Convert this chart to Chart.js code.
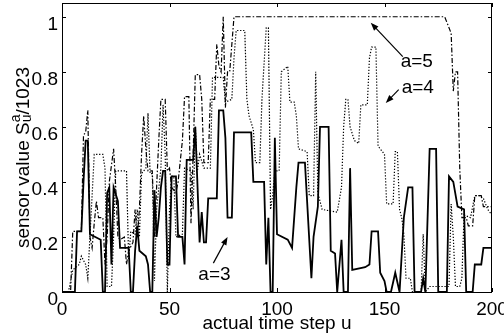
<!DOCTYPE html>
<html>
<head>
<meta charset="utf-8">
<script src="https://cdn.jsdelivr.net/npm/chart.js@4"></script>
<style>
  html, body { margin: 0; padding: 0; background: #fff; }
</style>
</head>
<body>
<canvas id="chart" width="504" height="335"></canvas>
<script>
// sensor value S_u^a / 1023 over time step u, one series per a
const xTicks = [0, 50, 100, 150, 200];
const yTicks = [0, 0.2, 0.4, 0.6, 0.8, 1];

// [u, value] breakpoints
const a3 = [[0,0],[6,0],[7,0.22],[9,0.22],[10,0.4],[11,0.55],[12,0.55],[13,0.21],[18,0.19],[19,0],[20,0],[21,0.36],[22,0.38],[23,0.1],[24,0.38],[26,0.33],[27,0.16],[31,0.16],[32,0],[33,0],[34,0.15],[35,0.24],[36,0.15],[39,0.13],[40,0.1],[41,0],[42,0],[43,0.37],[44,0.2],[45,0.27],[46,0.38],[47,0.44],[48,0.44],[49,0.1],[50,0.1],[51,0.42],[53,0.42],[54,0.2],[56,0.2],[57,0.1],[58,0.48],[61,0.48],[62,0.6],[64,0.18],[65,0.29],[66,0.18],[67,0.18],[68,0.34],[72,0.34],[73,0.66],[75,0.66],[76,0.56],[77,0.27],[79,0.27],[80,0.58],[88,0.58],[89,0.4],[94,0.4],[95,0.1],[96,0.27],[97,0],[98,0],[99,0.56],[100,0.21],[105,0.19],[107,0.16],[109,0.38],[110,0.47],[113,0.47],[114,0.33],[116,0.05],[117,0.2],[119,0.31],[120,0.6],[124,0.6],[125,0.15],[127,0.14],[128,0],[130,0.19],[131,0],[133,0],[134,0.45],[135,0.08],[141,0.09],[143,0.1],[144,0.22],[147,0.22],[148,0.07],[150,0.04],[151,0],[153,0],[155,0.07],[157,0],[159,0.27],[161,0.38],[163,0.38],[164,0],[167,0],[168,0.05],[169,0],[171,0.52],[174,0.52],[175,0],[179,0],[180,0.42],[182,0.4],[184,0.31],[187,0.3],[188,0],[191,0],[192,0.1],[195,0.1],[196,0.16],[200,0.16]];
const a4 = [[0,0],[3,0],[5,0.08],[8,0.1],[9,0.13],[11,0.1],[12,0.05],[13,0.2],[14,0.35],[15,0.5],[19,0.5],[20,0.45],[21,0.02],[23,0.02],[24,0.2],[25,0.44],[30,0.44],[31,0.12],[32,0.22],[34,0.21],[35,0.3],[36,0.2],[37,0.43],[39,0.45],[40,0.65],[41,0.43],[42,0.43],[43,0.04],[44,0.3],[46,0.45],[47,0.68],[48,0.5],[49,0],[50,0.3],[51,0.42],[52,0.42],[53,0.2],[56,0.21],[57,0.45],[60,0.44],[61,0.3],[62,0.6],[63,0.44],[64,0.5],[66,0.45],[69,0.45],[70,0.78],[75,0.78],[76,0.69],[79,0.7],[80,0.85],[81,0.95],[85,0.95],[86,0.7],[87,0.64],[89,0.59],[90,0.47],[92,0.47],[93,0.7],[95,0.96],[96,0.96],[97,0.3],[98,0.35],[99,0.44],[101,0.44],[102,0.8],[105,0.82],[106,0.69],[108,0.69],[109,0.64],[110,0.52],[114,0.51],[115,0.35],[117,0.35],[118,0.8],[119,0.36],[121,0.3],[128,0.29],[130,0.38],[131,0.6],[132,0.7],[133,0.7],[134,0.6],[136,0.55],[138,0.54],[139,0.68],[142,0.68],[143,0.85],[144,0.89],[146,0.89],[147,0.53],[150,0.5],[151,0.32],[154,0.32],[155,0.51],[156,0.51],[157,0.3],[158,0.27],[159,0.21],[160,0.05],[162,0.05],[163,0],[167,0],[168,0.21],[169,0],[171,0.02],[180,0.02],[181,0.32],[182,0.2],[183,0.02],[185,0.02],[186,0.05],[187,0.28],[190,0.27],[192,0.35],[194,0.35],[196,0.34],[198,0.3],[200,0.28]];
const a5 = [[0,0],[4,0],[5,0.22],[9,0.22],[10,0.57],[11,0.58],[12,0.66],[13,0.2],[14,0.16],[15,0.25],[16,0.33],[17,0.27],[19,0.27],[20,0.1],[21,0.2],[22,0.4],[24,0.52],[25,0.38],[26,0.2],[27,0.19],[29,0.2],[30,0.1],[31,0.15],[33,0.18],[34,0.3],[35,0.2],[36,0.3],[37,0.5],[38,0.64],[39,0.52],[40,0.44],[42,0.44],[43,0.2],[44,0.38],[45,0.55],[46,0.7],[48,0.7],[49,0.44],[50,0.45],[51,0.38],[53,0.36],[54,0.4],[56,0.55],[57,0.71],[59,0.71],[60,0.25],[61,0.5],[62,0.79],[64,0.79],[65,0.7],[66,0.47],[68,0.47],[69,0.7],[71,0.7],[72,0.9],[73,0.82],[74,0.8],[75,1],[76,0.67],[77,0.8],[78,0.8],[79,0.9],[80,1],[178,1],[181,0.94],[182,0.73],[183,0.8],[184,0.8],[185,0.45],[186,0.27],[188,0.27],[189,0.24],[191,0.24],[192,0.35],[195,0.35],[196,0.31],[200,0.31]];

// labels with arrows: text anchor, arrow tail, arrow head (data coords)
const notes = [
  { text: 'a=3', at: [70.9, 0.062], from: [70.4, 0.105], to: [77, 0.2] },
  { text: 'a=5', at: [165, 0.836], from: [158.5, 0.855], to: [143.6, 0.978] },
  { text: 'a=4', at: [165.5, 0.742], from: [156.6, 0.735], to: [150.6, 0.687] }
];

const FONT = '"Liberation Sans", Arial, sans-serif';

const series = (pts, dash, w) => ({
  data: pts.map(([x, y]) => ({ x, y })),
  borderColor: '#000',
  borderWidth: w,
  borderDash: dash,
  pointRadius: 0,
  tension: 0,
  fill: false
});

// box round the plot with inward ticks (matlab style)
const frame = {
  id: 'frame',
  afterDatasetsDraw(chart) {
    const { ctx, chartArea: a, scales: { x, y } } = chart;
    ctx.save();
    ctx.strokeStyle = '#000';
    ctx.lineWidth = 1;
    ctx.strokeRect(a.left + 0.5, a.top + 0.5, a.right - a.left - 1, a.bottom - a.top);
    ctx.beginPath();
    xTicks.forEach(v => {
      const px = Math.round(x.getPixelForValue(v)) + 0.5;
      ctx.moveTo(px, a.bottom); ctx.lineTo(px, a.bottom - 4);
      ctx.moveTo(px, a.top); ctx.lineTo(px, a.top + 4);
    });
    yTicks.forEach(v => {
      const py = Math.round(y.getPixelForValue(v)) + 0.5;
      ctx.moveTo(a.left, py); ctx.lineTo(a.left + 4, py);
      ctx.moveTo(a.right, py); ctx.lineTo(a.right - 4, py);
    });
    ctx.stroke();
    ctx.restore();
  }
};

const yTitle = {
  id: 'yTitle',
  afterDraw(chart) {
    const { ctx, chartArea: a } = chart;
    const big = '19px ' + FONT, small = '14px ' + FONT;
    ctx.save();
    ctx.translate(29, (a.top + a.bottom) / 2 + 10);
    ctx.rotate(-Math.PI / 2);
    ctx.fillStyle = '#000';
    ctx.textBaseline = 'alphabetic';
    ctx.font = big;
    const w1 = ctx.measureText('sensor value S').width;
    const w3 = ctx.measureText('/1023').width;
    ctx.font = small;
    const w2 = Math.max(ctx.measureText('a').width, ctx.measureText('u').width);
    const x0 = -(w1 + w2 + w3) / 2;
    ctx.font = big;
    ctx.fillText('sensor value S', x0, 0);
    ctx.font = small;
    ctx.fillText('a', x0 + w1, -9);
    ctx.fillText('u', x0 + w1, 2);
    ctx.font = big;
    ctx.fillText('/1023', x0 + w1 + w2, 0);
    ctx.restore();
  }
};

const arrows = {
  id: 'arrows',
  afterDraw(chart) {
    const { ctx, scales: { x, y } } = chart;
    ctx.save();
    ctx.fillStyle = '#000';
    ctx.strokeStyle = '#000';
    ctx.lineWidth = 1.2;
    ctx.font = '19px ' + FONT;
    ctx.textAlign = 'center';
    ctx.textBaseline = 'middle';
    notes.forEach(n => {
      ctx.fillText(n.text, x.getPixelForValue(n.at[0]), y.getPixelForValue(n.at[1]));
      const x1 = x.getPixelForValue(n.from[0]), y1 = y.getPixelForValue(n.from[1]);
      const x2 = x.getPixelForValue(n.to[0]), y2 = y.getPixelForValue(n.to[1]);
      const ang = Math.atan2(y2 - y1, x2 - x1);
      ctx.beginPath();
      ctx.moveTo(x1, y1);
      ctx.lineTo(x2 - 5 * Math.cos(ang), y2 - 5 * Math.sin(ang));
      ctx.stroke();
      ctx.beginPath();
      ctx.moveTo(x2, y2);
      ctx.lineTo(x2 - 8 * Math.cos(ang) + 3 * Math.sin(ang), y2 - 8 * Math.sin(ang) - 3 * Math.cos(ang));
      ctx.lineTo(x2 - 8 * Math.cos(ang) - 3 * Math.sin(ang), y2 - 8 * Math.sin(ang) + 3 * Math.cos(ang));
      ctx.closePath();
      ctx.fill();
    });
    ctx.restore();
  }
};

new Chart(document.getElementById('chart'), {
  type: 'line',
  data: {
    datasets: [
      series(a3, [], 1.8),
      series(a4, [1.3, 1.7], 1.2),
      series(a5, [5, 2, 1.5, 2], 1.2)
    ]
  },
  options: {
    responsive: false,
    animation: false,
    devicePixelRatio: 1,
    layout: { autoPadding: false, padding: { top: 3, right: 12, left: 0, bottom: 0 } },
    plugins: { legend: { display: false }, tooltip: { enabled: false } },
    scales: {
      x: {
        type: 'linear',
        min: 0,
        max: 200,
        afterBuildTicks: s => { s.ticks = xTicks.map(v => ({ value: v })); },
        afterFit: s => { s.height = 43; s.paddingLeft = 0; s.paddingRight = 0; },
        grid: { display: false, drawTicks: false },
        border: { display: false },
        ticks: { color: '#000', font: { family: FONT, size: 19 }, padding: 6, maxRotation: 0, autoSkip: false },
        title: {
          display: true,
          text: 'actual time step u',
          color: '#000',
          font: { family: FONT, size: 19 },
          padding: { top: 0, bottom: 0 }
        }
      },
      y: {
        type: 'linear',
        min: 0,
        max: 1.05,
        afterBuildTicks: s => { s.ticks = yTicks.map(v => ({ value: v })); },
        afterFit: s => { s.width = 62; s.paddingTop = 0; s.paddingBottom = 0; },
        grid: { display: false, drawTicks: false },
        border: { display: false },
        ticks: {
          color: '#000',
          font: { family: FONT, size: 19 },
          padding: 4,
          labelOffset: 8,
          autoSkip: false,
          callback: v => String(+v.toFixed(1))
        }
      }
    }
  },
  plugins: [frame, yTitle, arrows]
});
</script>
</body>
</html>
